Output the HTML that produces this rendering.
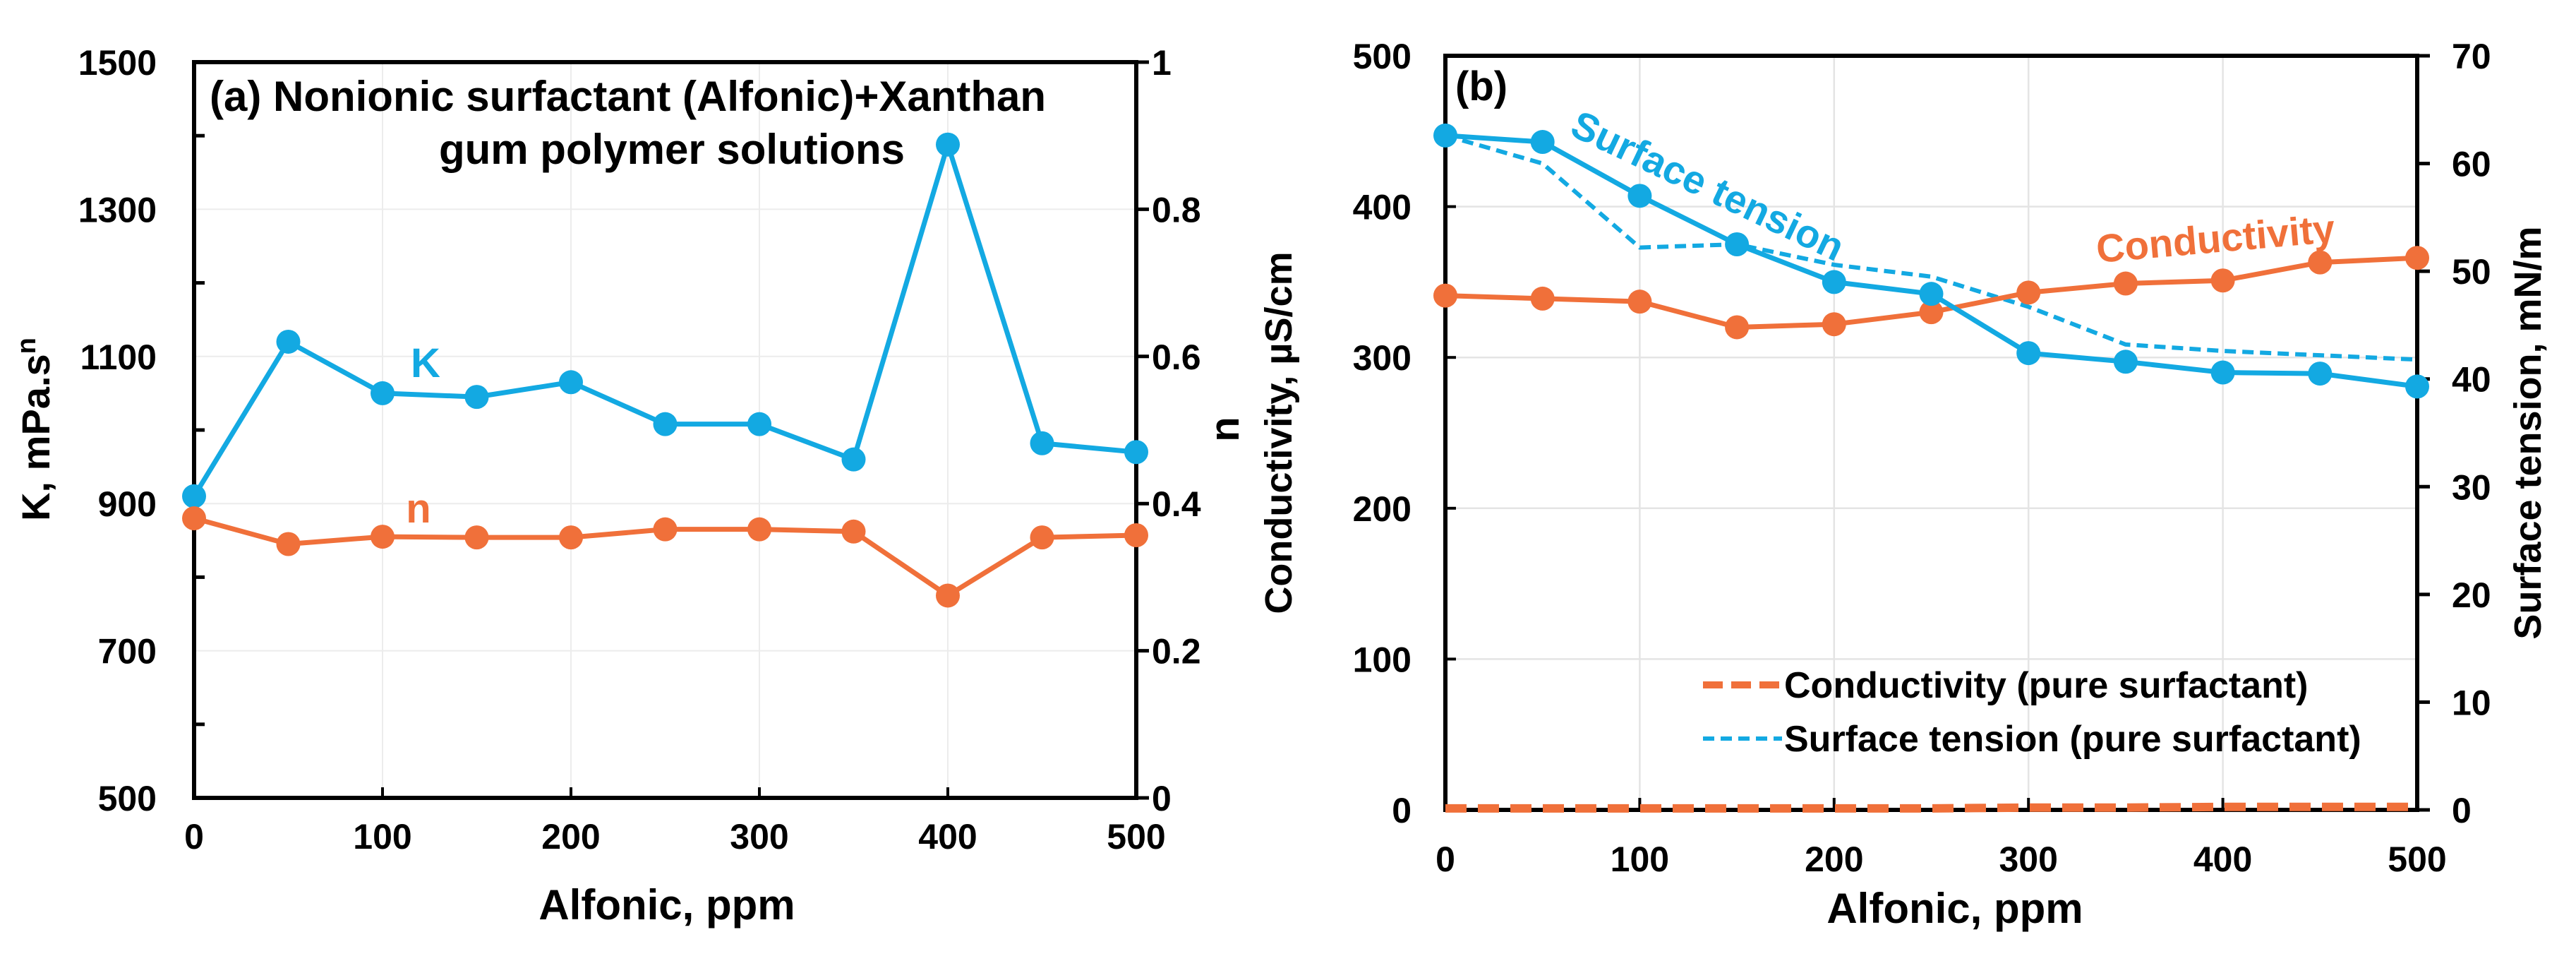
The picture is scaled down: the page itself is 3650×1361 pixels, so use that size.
<!DOCTYPE html>
<html><head><meta charset="utf-8"><style>
html,body{margin:0;padding:0;background:#fff;}
svg{display:block;font-family:"Liberation Sans Narrow","Liberation Sans",sans-serif;font-weight:bold;}
</style></head><body>
<svg id="chart" width="3650" height="1361" viewBox="0 0 3650 1361" xmlns="http://www.w3.org/2000/svg"></svg>
<script>
const xVals=[0,50,100,150,200,250,300,350,400,450,500];
const kVals=[910,1120,1050,1045,1065,1008,1008,960,1388,982,970];
const nVals=[0.38,0.345,0.355,0.354,0.354,0.365,0.365,0.362,0.275,0.354,0.357];
const condVals=[341,339,337,320,322,330,343,349,351,363,366];
const stVals=[62.6,62.0,57.0,52.5,49.0,47.9,42.4,41.6,40.6,40.5,39.3];
const stPureVals=[62.6,60.0,52.2,52.5,50.6,49.5,46.7,43.2,42.6,42.2,41.8];
const condPureVals=[1,1,1,1,1,1,1.5,1.5,2,2,2];
const xTicks=[0,100,200,300,400,500];
const kTicks=[500,700,900,1100,1300,1500];
const nTicks=[0,0.2,0.4,0.6,0.8,1];
const condTicks=[0,100,200,300,400,500];
const stTicks=[0,10,20,30,40,50,60,70];

const NS="http://www.w3.org/2000/svg";
const svg=document.getElementById('chart');
const BLUE="#13a9e2", ORANGE="#f0703a";
function mk(tag,attrs,parent){const e=document.createElementNS(NS,tag);for(const k in attrs)e.setAttribute(k,attrs[k]);(parent||svg).appendChild(e);return e;}
function txt(s,x,y,size,anchor,fill,parent,rot){const t=mk('text',{x:x,y:y,'font-size':size,'text-anchor':anchor||'middle',fill:fill||'#000'},parent);if(rot!==undefined)t.setAttribute('transform','rotate('+rot+' '+x+' '+y+')');t.textContent=s;return t;}
function lin(d0,d1,r0,r1){return v=>r0+(v-d0)/(d1-d0)*(r1-r0);}

// ---------- Panel (a) ----------
const ga=mk('g',{});


const ax=lin(0,500,275,1610), ayK=lin(500,1500,1130,88), ayN=lin(0,1,1130,88);
xTicks.forEach(v=>{const l=mk('line',{x1:ax(v),x2:ax(v),y1:88,y2:1130,stroke:'#ececec','stroke-width':2},ga);});
kTicks.forEach(v=>{const l=mk('line',{x1:275,x2:1610,y1:ayK(v),y2:ayK(v),stroke:'#ececec','stroke-width':2},ga);});
for(let v=600;v<1500;v+=200){mk('line',{x1:275,x2:290,y1:ayK(v),y2:ayK(v),stroke:'#000','stroke-width':5},ga);}
xTicks.forEach(v=>{mk('line',{x1:ax(v),x2:ax(v),y1:1130,y2:1115,stroke:'#000','stroke-width':4},ga);});
nTicks.forEach(v=>{mk('line',{x1:1610,x2:1628,y1:ayN(v),y2:ayN(v),stroke:'#000','stroke-width':5},ga);});
const fa=mk('rect',{x:275,y:88,width:1335,height:1042,fill:'none',stroke:'#000','stroke-width':6},ga);

kTicks.forEach(v=>{const t=txt(String(v),222,ayK(v)+18,50,'end','#000',ga);});
nTicks.forEach(v=>{const t=txt(String(v),1632,ayN(v)+18,50,'start','#000',ga);});
xTicks.forEach(v=>{const t=txt(String(v),ax(v),1202,50,'middle','#000',ga);});
let t=txt('Alfonic, ppm',945,1302,60,'middle','#000',ga);
t=mk('text',{x:70,y:608,'font-size':56,'text-anchor':'middle',transform:'rotate(-90 70 608)','font-family':'Liberation Sans, sans-serif'},ga);
t.innerHTML='K, mPa.s<tspan dy="-20" font-size="38">n</tspan>';

t=txt('n',1755,608,58,'middle','#000',ga,-90);
t=txt('(a)  Nonionic surfactant (Alfonic)+Xanthan',297,157,60,'start','#000',ga);
t=txt('gum polymer solutions',952,232,60,'middle','#000',ga);
t=txt('K',603,534,58,'middle',BLUE,ga);
t=txt('n',593,740,58,'middle',ORANGE,ga);
function series(g,xs,ys,fx,fy,color,name,markers,dash,w){
  const p=mk('polyline',{points:xs.map((x,i)=>fx(x)+','+fy(ys[i])).join(' '),fill:'none',stroke:color,'stroke-width':w||7,'stroke-linejoin':'round'},g);
  if(dash)p.setAttribute('stroke-dasharray',dash);
  
  if(markers)xs.forEach((x,i)=>{const c=mk('circle',{cx:fx(x),cy:fy(ys[i]),r:17,fill:color},g);});
}
series(ga,xVals,kVals,ax,ayK,BLUE,'k-series',true);
series(ga,xVals,nVals,ax,ayN,ORANGE,'n-series',true);

// ---------- Panel (b) ----------
const gb=mk('g',{});


const bx=lin(0,500,2048,3425), byC=lin(0,500,1147,79), byS=lin(0,70,1147,79);
xTicks.forEach(v=>{const l=mk('line',{x1:bx(v),x2:bx(v),y1:79,y2:1147,stroke:'#e4e4e4','stroke-width':2.5},gb);});
condTicks.forEach(v=>{const l=mk('line',{x1:2048,x2:3425,y1:byC(v),y2:byC(v),stroke:'#e4e4e4','stroke-width':2.5},gb);});
condTicks.forEach(v=>{mk('line',{x1:2048,x2:2063,y1:byC(v),y2:byC(v),stroke:'#000','stroke-width':4},gb);});
xTicks.forEach(v=>{mk('line',{x1:bx(v),x2:bx(v),y1:1147,y2:1130,stroke:'#000','stroke-width':4},gb);});
stTicks.forEach(v=>{mk('line',{x1:3425,x2:3443,y1:byS(v),y2:byS(v),stroke:'#000','stroke-width':5},gb);});
const fb=mk('rect',{x:2048,y:79,width:1377,height:1068,fill:'none',stroke:'#000','stroke-width':6},gb);

condTicks.forEach(v=>{const t=txt(String(v),2000,byC(v)+18,50,'end','#000',gb);});
stTicks.forEach(v=>{const t=txt(String(v),3474,byS(v)+18,50,'start','#000',gb);});
xTicks.forEach(v=>{const t=txt(String(v),bx(v),1234,50,'middle','#000',gb);});
t=txt('Alfonic, ppm',2770,1307,60,'middle','#000',gb);
t=txt('Conductivity, µS/cm',1830,613,54,'middle','#000',gb,-90);t.setAttribute('font-family','Liberation Sans, sans-serif');
t=txt('Surface tension, mN/m',3600,613,54,'middle','#000',gb,-90);t.setAttribute('font-family','Liberation Sans, sans-serif');
t=txt('(b)',2062,142,58,'start','#000',gb);
t=txt('Surface tension',2222,190,56,'start',BLUE,gb,25.5);
t=txt('Conductivity',2972,372,56,'start',ORANGE,gb,-5);
series(gb,xVals,condPureVals,bx,byC,ORANGE,'conductivity-pure-series',false,'30,16',12);
series(gb,xVals,stPureVals,bx,byS,BLUE,'surface-tension-pure-series',false,'16,9',6);
series(gb,xVals,condVals,bx,byC,ORANGE,'conductivity-series',true);
series(gb,xVals,stVals,bx,byS,BLUE,'surface-tension-series',true);
const lg=mk('g',{},gb);


let l=mk('line',{x1:2413,x2:2525,y1:970,y2:970,stroke:ORANGE,'stroke-width':10,'stroke-dasharray':'28,12'},lg);

t=txt('Conductivity (pure surfactant)',2528,988,52,'start','#000',lg);
l=mk('line',{x1:2413,x2:2525,y1:1046,y2:1046,stroke:BLUE,'stroke-width':6,'stroke-dasharray':'16,9'},lg);

t=txt('Surface tension (pure surfactant)',2528,1064,52,'start','#000',lg);
</script>
</body></html>
